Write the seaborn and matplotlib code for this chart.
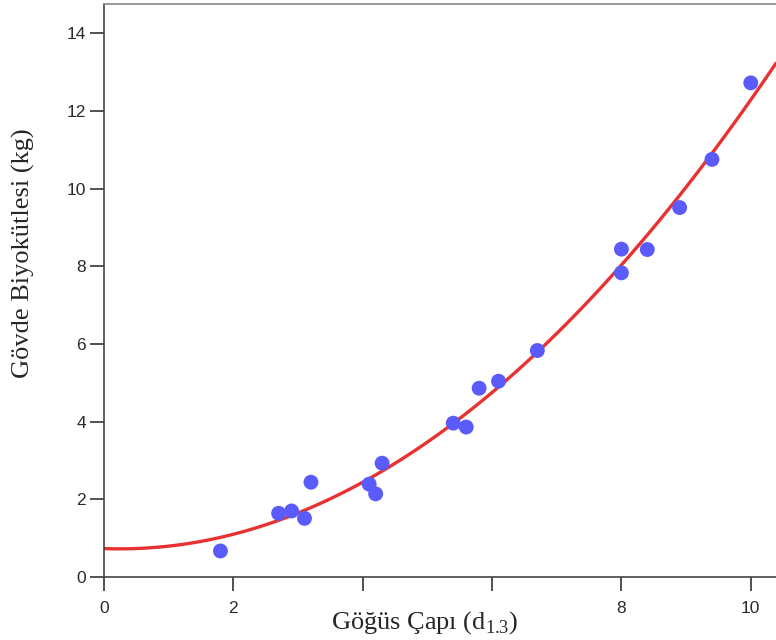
import matplotlib
matplotlib.use("Agg")
import matplotlib.pyplot as plt
import seaborn as sns
import pandas as pd

# Breast-height diameter and stem biomass of sampled trees
diameter = [1.8, 2.7, 2.9, 3.1, 3.2, 4.1, 4.2, 4.3, 5.4, 5.6, 5.8, 6.1, 6.7,
            8.0, 8.0, 8.4, 8.9, 9.4, 10.0]
biomass = [0.67, 1.64, 1.70, 1.51, 2.44, 2.39, 2.14, 2.93, 3.96, 3.86, 4.86,
           5.04, 5.83, 8.44, 7.83, 8.43, 9.51, 10.75, 12.72]

x_ticks = [0, 2, 4, 6, 8, 10]
x_tick_labels = ["0", "2", "", "", "8", "10"]
y_ticks = [0, 2, 4, 6, 8, 10, 12, 14]

df = pd.DataFrame({"d": diameter, "b": biomass})

sns.set_style("ticks")
plt.rcParams["mathtext.fontset"] = "custom"
plt.rcParams["mathtext.rm"] = "Liberation Serif"

fig = plt.figure(figsize=(7.76, 6.4), dpi=100)
ax = fig.add_axes([104 / 776, 63 / 640, 1 - 104 / 776, 573 / 640])
ax.set_xlim(0, 10.39)
ax.set_ylim(0, 14.75)

# quadratic fit, extended across the whole x range
sns.regplot(data=df, x="d", y="b", order=2, ci=None, truncate=False,
            scatter=False, ax=ax,
            line_kws=dict(color="#e83232", lw=2.4, zorder=2))
sns.scatterplot(data=df, x="d", y="b", ax=ax, s=115, color="#5b5bfb",
                edgecolor="none", zorder=3)

ax.set_xticks(x_ticks)
ax.set_xticklabels(x_tick_labels)
ax.set_yticks(y_ticks)
ax.set_yticklabels([str(v) for v in y_ticks])

for side in ["left", "bottom", "top"]:
    ax.spines[side].set_visible(True)
    ax.spines[side].set_color("#444444")
    ax.spines[side].set_linewidth(1.2)
ax.spines["top"].set_color("#888888")
ax.spines["right"].set_visible(False)

ax.tick_params(axis="both", direction="out", length=10, width=1.2,
               color="#333333", labelsize=12.5, labelcolor="#2a2a2a",
               pad=3)
ax.tick_params(axis="x", pad=7)
for lab in ax.get_xticklabels() + ax.get_yticklabels():
    lab.set_family("Liberation Sans")

ax.set_xlabel("Göğüs Çapı (d$_{\\mathrm{1.3}}$)", family="Liberation Serif",
              fontsize=19)
ax.set_ylabel("Gövde Biyokütlesi (kg)", family="Liberation Serif",
              fontsize=19)
ax.xaxis.set_label_coords((425 - 104) / 672, -(609 - 577) / 573)
ax.yaxis.set_label_coords(-(104 - 35) / 672, (577 - 253) / 573)

fig.savefig("out.png", dpi=100)
